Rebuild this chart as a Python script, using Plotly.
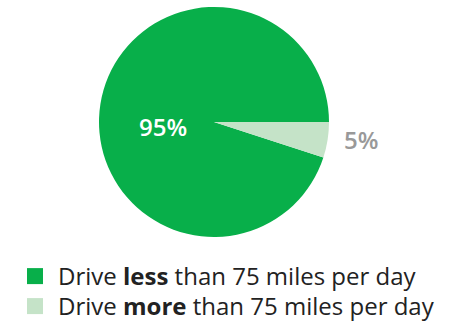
import math
import plotly.graph_objects as go

labels = ["Drive <b>less</b> than 75 miles per day", "Drive <b>more</b> than 75 miles per day"]
values = [95, 5]
colors = ["#08AF4A", "#C5E3C8"]
label_colors = ["#FFFFFF", "#999999"]

W, H = 462, 326
cx, cy, r = 214, 122, 115

fig = go.Figure()
fig.add_trace(go.Pie(
    labels=labels,
    values=values,
    sort=False,
    direction="clockwise",
    rotation=90 + values[1] / sum(values) * 360,
    marker=dict(colors=colors, line=dict(width=0)),
    textinfo="none",
    domain=dict(x=[(cx - r) / W, (cx + r) / W], y=[1 - (cy + r) / H, 1 - (cy - r) / H]),
    hoverinfo="label+percent",
    showlegend=False,
))

# percentage labels: big slice inside on the left, small slice outside along its bisector
total = sum(values)
small_mid = math.radians(values[1] / total * 360 / 2)
label_pos = [
    (cx - 0.44 * r, cy + 0.04 * r),
    (cx + 1.29 * r * math.cos(small_mid), cy + 1.29 * r * math.sin(small_mid) - 6),
]
for v, (px, py), col in zip(values, label_pos, label_colors):
    fig.add_annotation(
        x=px / W, y=1 - py / H, xref="paper", yref="paper",
        text=f"{round(v / total * 100)}%", showarrow=False,
        xanchor="center", yanchor="middle",
        font=dict(family="Open Sans", size=24, color=col, weight=600),
    )

# legend entries with larger square swatches, one legend per row
row_centers = [274, 304]
legend_names = ["legend", "legend2"]
for lab, col, lg in zip(labels, colors, legend_names):
    fig.add_trace(go.Scatter(
        x=[None], y=[None], mode="markers", name=lab, legend=lg,
        marker=dict(symbol="square", size=16, color=col),
        showlegend=True, hoverinfo="skip",
    ))
legend_style = dict(
    x=0.026, xanchor="left", yanchor="top",
    font=dict(family="Open Sans", size=24, color="#222222"),
    bgcolor="rgba(0,0,0,0)",
    itemsizing="trace",
    itemwidth=36,
)
fig.update_layout(
    width=W, height=H,
    margin=dict(l=0, r=0, t=0, b=0, autoexpand=False),
    paper_bgcolor="white",
    plot_bgcolor="white",
    xaxis=dict(visible=False),
    yaxis=dict(visible=False),
    font=dict(family="Open Sans", color="#222222"),
    showlegend=True,
    legend=dict(y=1 - (row_centers[0] - 20) / H, **legend_style),
    legend2=dict(y=1 - (row_centers[1] - 20) / H, **legend_style),
)
fig.write_html("out.html")
